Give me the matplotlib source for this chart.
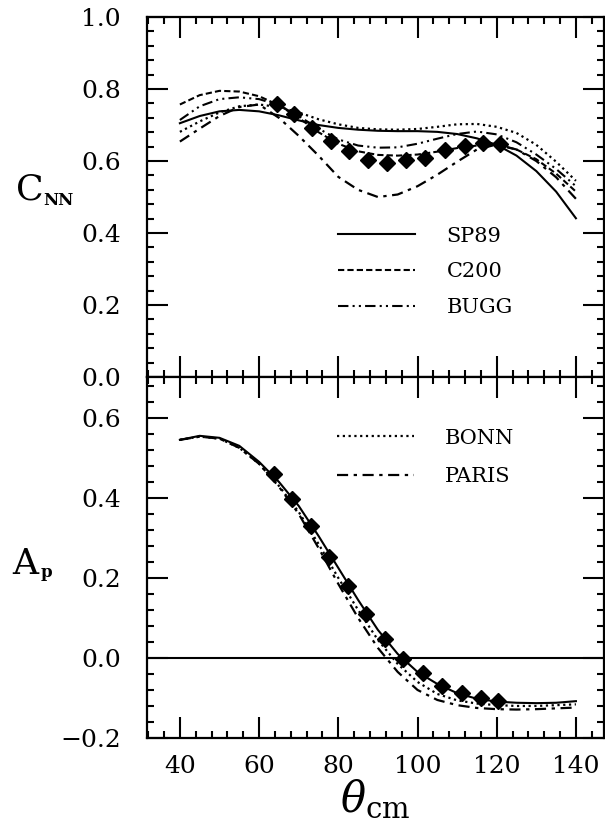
import matplotlib
matplotlib.use("Agg")
import matplotlib.pyplot as plt
from matplotlib.ticker import MultipleLocator, FuncFormatter

plt.rcParams["font.family"] = ["DejaVu Serif"]
plt.rcParams["mathtext.fontset"] = "dejavuserif"

# angle grid for the model curves (deg)
theta = [40, 45, 50, 55, 60, 65, 70, 75, 80, 85, 90, 95, 100,
         105, 110, 115, 120, 125, 130, 135, 140]

# C_NN model curves
cnn_sp89 = [0.705, 0.725, 0.738, 0.742, 0.738, 0.727, 0.713, 0.700, 0.692, 0.687, 0.684,
            0.683, 0.683, 0.681, 0.675, 0.663, 0.645, 0.615, 0.572, 0.515, 0.441]
cnn_c200 = [0.757, 0.783, 0.795, 0.793, 0.780, 0.755, 0.720, 0.680, 0.648, 0.627, 0.617,
            0.615, 0.618, 0.626, 0.636, 0.643, 0.645, 0.632, 0.605, 0.565, 0.515]
cnn_bugg = [0.714, 0.752, 0.772, 0.777, 0.772, 0.755, 0.725, 0.690, 0.660, 0.643, 0.637,
            0.638, 0.648, 0.662, 0.675, 0.682, 0.674, 0.652, 0.618, 0.578, 0.530]
cnn_bonn = [0.681, 0.710, 0.735, 0.752, 0.757, 0.750, 0.735, 0.716, 0.702, 0.692, 0.688,
            0.687, 0.689, 0.695, 0.702, 0.703, 0.695, 0.678, 0.645, 0.598, 0.545]
cnn_paris = [0.654, 0.690, 0.725, 0.750, 0.757, 0.720, 0.670, 0.615, 0.556, 0.520, 0.500,
             0.507, 0.530, 0.562, 0.598, 0.632, 0.646, 0.632, 0.600, 0.555, 0.495]

# C_NN data points
cnn_x = [64.4, 68.8, 73.3, 78.1, 82.8, 87.6, 92.4, 97.2, 102.0, 106.9, 112.0, 116.6, 120.8]
cnn_y = [0.758, 0.732, 0.693, 0.656, 0.628, 0.602, 0.595, 0.602, 0.609, 0.631, 0.643, 0.649, 0.647]

# A_p model curves
ap_sp89 = [0.545, 0.555, 0.550, 0.530, 0.490, 0.440, 0.380, 0.305, 0.225, 0.145, 0.070,
           0.010, -0.035, -0.065, -0.088, -0.102, -0.109, -0.112, -0.113, -0.112, -0.108]
ap_bonn = [0.545, 0.553, 0.548, 0.525, 0.485, 0.430, 0.365, 0.285, 0.200, 0.120, 0.045,
           -0.015, -0.060, -0.090, -0.106, -0.114, -0.118, -0.120, -0.120, -0.118, -0.116]
ap_paris = [0.545, 0.553, 0.548, 0.525, 0.485, 0.428, 0.360, 0.275, 0.185, 0.100, 0.025,
            -0.035, -0.080, -0.105, -0.118, -0.125, -0.128, -0.129, -0.128, -0.126, -0.124]

# A_p data points
ap_x = [63.8, 68.2, 73.0, 77.7, 82.4, 87.1, 91.9, 96.4, 101.5, 106.3, 111.3, 116.0, 120.2]
ap_y = [0.459, 0.397, 0.330, 0.253, 0.180, 0.109, 0.048, -0.003, -0.038, -0.070, -0.088, -0.099, -0.107]

STYLES = {
    "SP89": dict(ls="-", lw=1.5),
    "C200": dict(ls=(0, (3, 1.5)), lw=1.5),
    "BUGG": dict(ls=(0, (5, 2, 1, 2, 1, 2)), lw=1.5),
    "BONN": dict(ls=(0, (1, 1.6)), lw=1.6),
    "PARIS": dict(ls=(0, (5, 2.5, 1.5, 2.5)), lw=1.6),
}

minus_fmt = FuncFormatter(lambda v, pos: f"{v:.1f}".replace("-", "\u2212"))


def style_axes(ax):
    ax.set_xlim(31.7, 147.1)
    ax.xaxis.set_major_locator(MultipleLocator(20))
    ax.xaxis.set_minor_locator(MultipleLocator(4))
    ax.yaxis.set_major_locator(MultipleLocator(0.2))
    ax.yaxis.set_minor_locator(MultipleLocator(0.04))
    ax.yaxis.set_major_formatter(minus_fmt)
    ax.tick_params(which="both", direction="in", top=True, right=True, width=1.5)
    ax.tick_params(which="major", length=15, labelsize=18)
    ax.tick_params(which="minor", length=5)
    ax.tick_params(axis="y", pad=19)
    ax.tick_params(axis="x", pad=12)
    for s in ax.spines.values():
        s.set_linewidth(1.6)


def side_label(ax, main, sub, xy_main, xy_sub):
    ax.text(*xy_main, main, transform=ax.transAxes, fontsize=26, ha="center", va="center")
    ax.text(*xy_sub, sub, transform=ax.transAxes, fontsize=12, ha="left", va="center",
            fontweight="bold")


leg_kw = dict(loc="center left", frameon=False, fontsize=15, handlelength=3.7,
              handletextpad=1.5, borderpad=0, borderaxespad=0)

fig = plt.figure(figsize=(6.05, 8.35), dpi=100)
ax1 = fig.add_axes([0.243, 0.5485, 0.7554, 0.4311])
ax2 = fig.add_axes([0.243, 0.1162, 0.7554, 0.4323])

# --- top panel: C_NN
h_sp89, = ax1.plot(theta, cnn_sp89, color="black", label="SP89", **STYLES["SP89"])
h_c200, = ax1.plot(theta, cnn_c200, color="black", label="C200", **STYLES["C200"])
h_bugg, = ax1.plot(theta, cnn_bugg, color="black", label="BUGG", **STYLES["BUGG"])
ax1.plot(theta, cnn_bonn, color="black", **STYLES["BONN"])
ax1.plot(theta, cnn_paris, color="black", **STYLES["PARIS"])
ax1.plot(cnn_x, cnn_y, "D", color="black", ms=8, zorder=5)

style_axes(ax1)
ax1.set_ylim(0.0, 1.0)
ax1.tick_params(labelbottom=False)
side_label(ax1, "C", "NN", (-0.257, 0.522), (-0.228, 0.49))
ax1.legend(handles=[h_sp89, h_c200, h_bugg], bbox_to_anchor=(0.418, 0.2925),
           labelspacing=0.8, **leg_kw)

# --- bottom panel: A_p
ax2.axhline(0.0, color="black", lw=1.5)
ax2.plot(theta, ap_sp89, color="black", **STYLES["SP89"])
h_bonn, = ax2.plot(theta, ap_bonn, color="black", label="BONN", **STYLES["BONN"])
h_paris, = ax2.plot(theta, ap_paris, color="black", label="PARIS", **STYLES["PARIS"])
ax2.plot(ap_x, ap_y, "D", color="black", ms=8, zorder=5)

style_axes(ax2)
ax2.set_ylim(-0.2, 0.702)
side_label(ax2, "A", "p", (-0.267, 0.483), (-0.233, 0.458))
ax2.set_xlabel(r"$\theta_{\mathrm{cm}}$", fontsize=30, labelpad=0)
ax2.legend(handles=[h_bonn, h_paris], bbox_to_anchor=(0.415, 0.777),
           labelspacing=0.95, **leg_kw)

fig.savefig("out.png", dpi=100, facecolor="white")
